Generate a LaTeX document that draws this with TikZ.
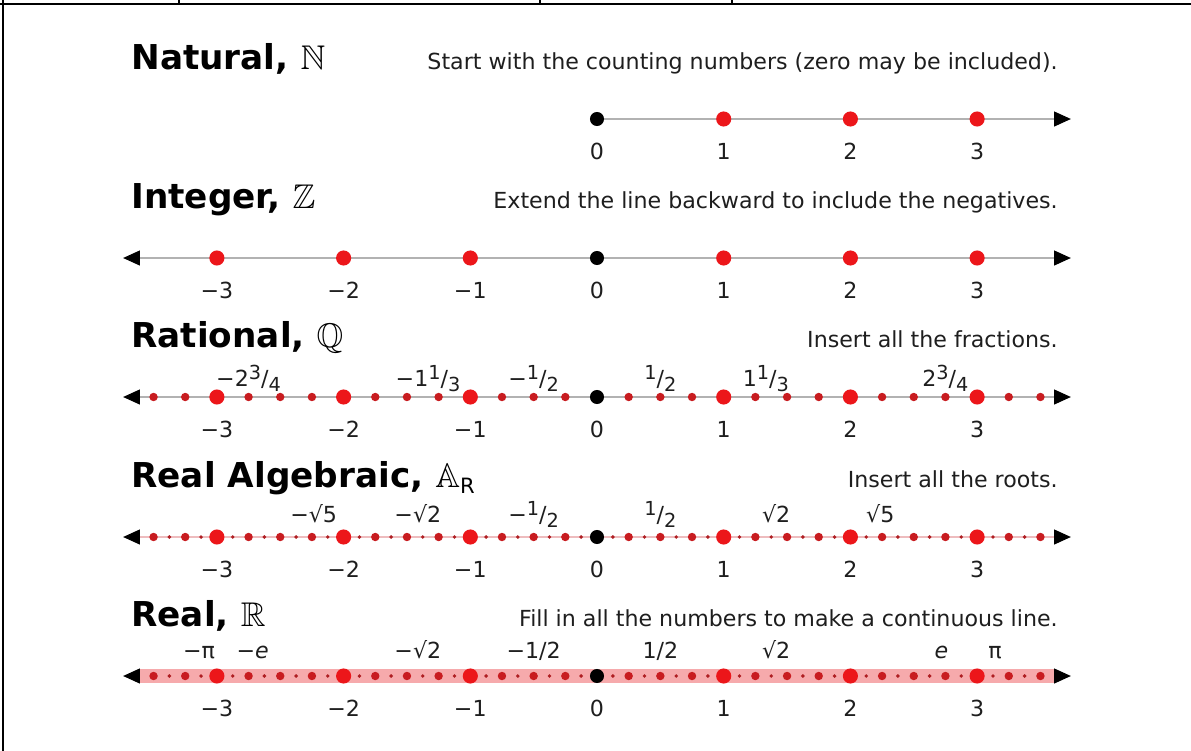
\documentclass[tikz,border=0pt]{standalone}
\usepackage{amsmath}
\usepackage{amssymb}
\usepackage{fontspec}
\setmainfont{DejaVu Sans}
\usetikzlibrary{arrows.meta}

\definecolor{dotred}{RGB}{236,22,26}
\definecolor{smallred}{RGB}{200,28,32}
\definecolor{tinyred}{RGB}{175,30,34}
\definecolor{axisgray}{RGB}{178,178,178}
\definecolor{dotline}{RGB}{238,188,190}
\definecolor{bandpink}{RGB}{246,170,172}
\definecolor{textgray}{RGB}{30,30,30}

% raised numerator / lowered denominator, as 3/4 in the labels
\newcommand{\slashfrac}[2]{\raisebox{0.55ex}{\fontsize{11}{12}\selectfont #1}/\raisebox{-0.45ex}{\fontsize{11}{12}\selectfont #2}}

\tikzset{
  title/.style={anchor=base west, inner sep=0pt, font=\fontsize{19.5}{23}\selectfont\bfseries},
  desc/.style={anchor=base east, inner sep=0pt, text=textgray, font=\fontsize{12.6}{15}\selectfont},
  numlabel/.style={anchor=base, inner sep=0pt, text=textgray, font=\fontsize{12.6}{15}\selectfont},
  axis/.style={draw=axisgray, line width=0.6pt},
  rule/.style={line cap=butt, black},
}

\begin{document}
\begin{tikzpicture}[x=0.02cm, y=-0.02cm, line join=round, line cap=round,
  >={Triangle[length=9.5pt, width=8.5pt, color=black]}]
\def\zero{597}
\def\unit{126.7}
\def\tipx{3.74}
\def\yN{119}
\def\yZ{258}
\def\yQ{397}
\def\yA{537}
\def\yR{676}

\useasboundingbox (0,0) rectangle (1191,751);

% Table rules round the picture
\draw[rule, line width=1.3pt] (0,4) -- (1191,4);
\draw[rule, line width=1.4pt] (3,0) -- (3,751);
\foreach \x in {179,540,732} \draw[rule, line width=0.8pt] (\x,0) -- (\x,4);

% Natural
\node[title] (natT) at (131,\yN-50) {Natural, $\mathbb{N}$};
\node[desc] (natD) at (1058,\yN-50) {Start with the counting numbers (zero may be included).};
\coordinate (natL) at (\zero,\yN);
\coordinate (natR) at ({\zero+\unit*\tipx},\yN);
\draw[axis, ->] (natL) -- (natR);
\foreach \v in {1,2,3} \fill[dotred] ({\zero+\unit*\v},\yN) circle (4.3pt);
\fill[black] (natL) circle (4pt);
\foreach \v in {0,...,3} \node[numlabel] (natN\v) at ({\zero+\unit*\v},\yN+40) {\v};

% Integer
\node[title] (intT) at (131,\yZ-50) {Integer, $\mathbb{Z}$};
\node[desc] (intD) at (1058,\yZ-50) {Extend the line backward to include the negatives.};
\coordinate (intL) at ({\zero-\unit*\tipx},\yZ);
\coordinate (intR) at ({\zero+\unit*\tipx},\yZ);
\draw[axis, <->] (intL) -- (intR);
\foreach \v in {-3,-2,-1,1,2,3} \fill[dotred] ({\zero+\unit*\v},\yZ) circle (4.3pt);
\fill[black] (\zero,\yZ) circle (4pt);

% Rational
\node[title] (ratT) at (131,\yQ-50) {Rational, $\mathbb{Q}$};
\node[desc] (ratD) at (1058,\yQ-50) {Insert all the fractions.};
\coordinate (ratL) at ({\zero-\unit*\tipx},\yQ);
\coordinate (ratR) at ({\zero+\unit*\tipx},\yQ);
\draw[axis, <->] (ratL) -- (ratR);
\foreach \k in {-14,...,14} \fill[smallred] ({\zero+\unit*\k/4},\yQ) circle (2.4pt);
\foreach \v in {-3,-2,-1,1,2,3} \fill[dotred] ({\zero+\unit*\v},\yQ) circle (4.3pt);
\fill[black] (\zero,\yQ) circle (4pt);
\foreach \v/\t [count=\i] in {-2.75/−2\slashfrac{3}{4}, -1.3333/−1\slashfrac{1}{3}, -0.5/−\slashfrac{1}{2},
    0.5/\slashfrac{1}{2}, 1.3333/1\slashfrac{1}{3}, 2.75/2\slashfrac{3}{4}}
  \node[numlabel] (ratF\i) at ({\zero+\unit*\v},\yQ-11) {\t};

% Real algebraic
\node[title] (algT) at (131,\yA-50) {Real Algebraic, $\mathbb{A}$\raisebox{-0.35ex}{\fontsize{12}{13}\selectfont\mdseries R}};
\node[desc] (algD) at (1058,\yA-50) {Insert all the roots.};
\coordinate (algL) at ({\zero-\unit*\tipx},\yA);
\coordinate (algR) at ({\zero+\unit*\tipx},\yA);
\draw[axis, draw=dotline, <->] (algL) -- (algR);
\foreach \k in {-27,-25,...,27} \fill[tinyred] ({\zero+\unit*\k/8},\yA) circle (1.1pt);
\foreach \k in {-14,...,14} \fill[smallred] ({\zero+\unit*\k/4},\yA) circle (2.4pt);
\foreach \v in {-3,-2,-1,1,2,3} \fill[dotred] ({\zero+\unit*\v},\yA) circle (4.3pt);
\fill[black] (\zero,\yA) circle (4pt);
\foreach \v/\t [count=\i] in {-2.236/−√5, -1.414/−√2, -0.5/−\slashfrac{1}{2},
    0.5/\slashfrac{1}{2}, 1.414/√2, 2.236/√5}
  \node[numlabel] (algF\i) at ({\zero+\unit*\v},\yA-15) {\t};

% Real
\node[title] (reaT) at (131,\yR-50) {Real, $\mathbb{R}$};
\node[desc] (reaD) at (1058,\yR-50) {Fill in all the numbers to make a continuous line.};
\coordinate (reaL) at ({\zero-\unit*\tipx},\yR);
\coordinate (reaR) at ({\zero+\unit*\tipx},\yR);
\fill[bandpink] ({\zero-\unit*3.62},\yR-7) rectangle ({\zero+\unit*3.62},\yR+7);
\draw[axis, draw=bandpink, <->] (reaL) -- (reaR);
\foreach \k in {-27,-25,...,27} \fill[tinyred] ({\zero+\unit*\k/8},\yR) circle (1.1pt);
\foreach \k in {-14,...,14} \fill[smallred] ({\zero+\unit*\k/4},\yR) circle (2.4pt);
\foreach \v in {-3,-2,-1,1,2,3} \fill[dotred] ({\zero+\unit*\v},\yR) circle (4.3pt);
\fill[black] (\zero,\yR) circle (4pt);
\foreach \v/\t [count=\i] in {-3.1416/−π, -2.718/−\textit{e}, -1.414/−√2, -0.5/{−1/2},
    0.5/{1/2}, 1.414/√2, 2.718/\textit{e}, 3.1416/π}
  \node[numlabel] (reaF\i) at ({\zero+\unit*\v},\yR-18) {\t};

% Integer labels under the last four lines
\foreach \y/\r in {\yZ/int, \yQ/rat, \yA/alg, \yR/rea}
  \foreach \v/\t in {-3/−3, -2/−2, -1/−1, 0/0, 1/1, 2/2, 3/3}
    \node[numlabel] (\r N\v) at ({\zero+\unit*\v},\y+40) {\t};
\end{tikzpicture}
\end{document}
